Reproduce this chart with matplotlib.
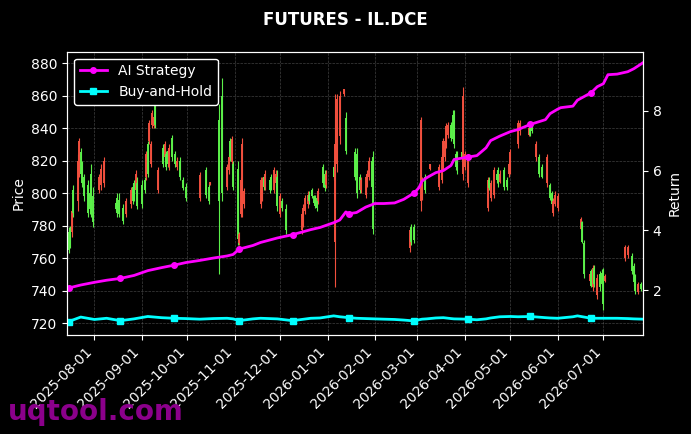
import matplotlib
matplotlib.use("Agg")
import matplotlib.pyplot as plt
import matplotlib.dates as mdates
import pandas as pd

# candles: day offsets from 2025-08-01, OHLC
candle_day = [-17, -16, -15, -14, -11, -10, -9, -8, -7, -4, -3, -2, -1, 3, 4, 6,
              14, 15, 16, 19, 21, 24, 25, 26, 27, 28, 31, 33, 34, 35, 36, 37, 38, 39, 40,
              42, 45, 46, 47, 48, 49, 51, 53, 54, 56, 58, 60, 69, 73, 75, 76,
              82, 84, 87, 88, 89, 90, 91, 94, 95, 96, 97, 98,
              109, 110, 111, 112, 115, 116, 118, 119, 120, 122, 123, 126,
              136, 137, 138, 140, 141, 143, 144, 145, 146, 147, 150, 151, 152,
              157, 158, 159, 161, 164, 165, 171, 172, 174, 175, 178, 179, 180, 182, 183,
              207, 208, 210, 214, 215, 217, 220, 226, 228, 229, 230, 231, 232,
              234, 235, 236, 237, 238, 241, 242, 243, 245,
              258, 259, 260, 262, 264, 265, 266, 269, 271, 272, 273, 278, 279,
              285, 286, 287, 290, 292, 294, 297, 299, 300, 301, 302, 304,
              319, 320, 321, 325, 326, 327, 328, 330, 332, 333, 334, 335,
              348, 350, 353, 354, 355, 357, 359]
candle_open = [765, 768, 789, 788, 820, 832, 812, 806, 798, 788, 790, 790, 782, 810, 815, 820,
               790, 788, 787, 783, 795, 802, 795, 797, 812, 792, 793, 802, 824, 812, 843, 830, 849, 847, 842,
               814, 818, 830, 816, 818, 828, 822, 818, 820, 810, 803, 797, 811, 799, 795, 807,
               795, 800, 816, 822, 822, 833, 804, 772, 775, 808, 830, 801,
               808, 808, 804, 812, 802, 804, 814, 812, 792, 798, 791, 777,
               787, 791, 797, 799, 795, 798, 794, 792, 791, 801, 806, 803, 812,
               810, 830, 858, 860, 864, 826, 810, 800, 802, 808, 810, 812, 820, 804, 778,
               777, 770, 771, 845, 808, 802, 818, 816, 822, 832, 832, 841, 842,
               834, 833, 830, 816, 814, 821, 860, 824, 822,
               808, 803, 806, 814, 808, 806, 812, 804, 804, 818, 825, 843, 843,
               840, 836, 838, 830, 812, 810, 822, 797, 793, 795, 799, 798,
               784, 770, 750, 750, 743, 754, 744, 748, 742, 744, 732, 749,
               767, 767, 752, 745, 740, 744, 741]
candle_high = [779, 780, 791, 805, 824, 834, 828, 820, 812, 808, 804, 818, 804, 812, 818, 822,
               795, 800, 800, 793, 797, 804, 806, 808, 814, 810, 808, 810, 826, 832, 845, 832, 851, 849, 857,
               816, 830, 832, 826, 828, 830, 836, 826, 822, 822, 810, 806, 813, 816, 806, 807,
               855, 871, 818, 824, 834, 835, 820, 820, 776, 810, 834, 803,
               810, 810, 812, 814, 810, 812, 816, 814, 814, 800, 797, 793,
               789, 793, 799, 801, 801, 803, 799, 799, 799, 803, 818, 814, 814,
               818, 861, 861, 863, 864, 850, 828, 828, 812, 810, 812, 814, 822, 822, 826,
               779, 781, 781, 847, 810, 812, 818, 818, 824, 834, 834, 843, 844,
               844, 851, 851, 826, 826, 826, 865, 826, 824,
               810, 810, 808, 816, 814, 816, 814, 816, 810, 820, 827, 845, 845,
               841, 841, 843, 832, 824, 818, 824, 806, 801, 797, 801, 800,
               785, 783, 771, 751, 753, 756, 756, 750, 752, 753, 754, 750,
               768, 768, 763, 757, 750, 745, 745]
candle_low = [763, 766, 773, 785, 789, 810, 810, 804, 795, 785, 787, 785, 779, 800, 802, 804,
              789, 785, 785, 781, 785, 791, 793, 795, 800, 790, 791, 800, 808, 810, 830, 816, 840, 840, 840,
              800, 816, 820, 814, 816, 814, 820, 816, 814, 808, 802, 795, 795, 797, 793, 805,
              750, 795, 802, 812, 820, 817, 802, 768, 768, 785, 785, 791,
              791, 795, 802, 802, 800, 802, 800, 804, 789, 785, 789, 775,
              775, 779, 787, 791, 793, 797, 793, 791, 789, 793, 804, 801, 803,
              808, 742, 813, 830, 860, 824, 808, 797, 800, 800, 797, 804, 808, 802, 775,
              764, 768, 769, 789, 796, 800, 814, 802, 806, 814, 820, 828, 834,
              832, 831, 828, 814, 812, 820, 808, 814, 804,
              789, 802, 795, 797, 806, 804, 806, 802, 802, 810, 812, 828, 836,
              835, 835, 837, 820, 810, 809, 804, 796, 792, 786, 792, 789,
              777, 769, 748, 745, 742, 740, 742, 735, 740, 742, 728, 745,
              758, 760, 750, 743, 738, 738, 740]
candle_close = [776, 778, 776, 802, 795, 814, 825, 818, 810, 805, 800, 812, 798, 802, 805, 806,
                794, 797, 796, 791, 787, 793, 804, 806, 802, 806, 805, 808, 810, 830, 832, 818, 842, 841, 855,
                802, 828, 822, 824, 826, 816, 834, 824, 816, 820, 808, 804, 797, 814, 804, 805,
                845, 860, 804, 814, 832, 819, 818, 815, 769, 787, 790, 793,
                793, 797, 810, 804, 808, 810, 802, 806, 810, 787, 795, 790,
                777, 781, 789, 793, 799, 802, 798, 797, 797, 795, 816, 812, 805,
                816, 770, 818, 835, 861, 846, 825, 824, 810, 802, 799, 806, 810, 820, 822,
                766, 779, 779, 795, 798, 810, 815, 804, 808, 816, 822, 830, 836,
                842, 848, 846, 824, 824, 825, 812, 816, 806,
                791, 808, 797, 799, 812, 814, 807, 814, 808, 812, 814, 830, 838,
                836, 840, 842, 822, 822, 816, 806, 805, 800, 788, 793, 791,
                778, 782, 769, 746, 752, 742, 754, 737, 750, 751, 750, 746,
                760, 762, 761, 755, 748, 739, 744]

# cumulative returns (right axis)
line_day = [-17, -9, 0, 8, 17, 26, 35, 44, 52, 60, 69, 78, 87, 91, 95, 104, 109, 120,
            130, 142, 148, 157, 161, 165, 167, 172, 178, 184, 190, 197, 203, 210, 213,
            215, 218, 224, 229, 234, 236, 245, 251, 257, 260, 266, 273, 278, 286, 296,
            299, 304, 306, 314, 317, 326, 330, 334, 337, 343, 350, 354, 360]
ai_return = [2.08, 2.18, 2.27, 2.34, 2.40, 2.5, 2.66, 2.76, 2.84, 2.93, 3.0, 3.08, 3.15, 3.2,
             3.38, 3.5, 3.6, 3.75, 3.86, 4.03, 4.1, 4.26, 4.35, 4.62, 4.56, 4.6, 4.78, 4.9,
             4.9, 4.92, 5.04, 5.26, 5.43, 5.65, 5.76, 5.93, 6.0, 6.17, 6.37, 6.45, 6.5,
             6.76, 7.0, 7.15, 7.3, 7.37, 7.54, 7.7, 7.9, 8.05, 8.1, 8.15, 8.35, 8.6, 8.8,
             8.9, 9.2, 9.22, 9.3, 9.4, 9.6]
bh_return = [0.96, 1.11, 1.03, 1.07, 0.99, 1.05, 1.13, 1.09, 1.07, 1.06, 1.04, 1.06, 1.07,
             1.05, 0.99, 1.05, 1.07, 1.05, 0.99, 1.07, 1.08, 1.15, 1.12, 1.10, 1.09, 1.07,
             1.06, 1.05, 1.04, 1.03, 1.01, 0.98, 1.02, 1.04, 1.05, 1.08, 1.09, 1.06, 1.05,
             1.04, 1.02, 1.05, 1.08, 1.12, 1.13, 1.12, 1.13, 1.09, 1.08, 1.07, 1.08, 1.12,
             1.15, 1.07, 1.07, 1.07, 1.07, 1.07, 1.06, 1.05, 1.04]
marker_day = [-17, 17, 52, 95, 130, 167, 210, 245, 286, 326]

base = pd.Timestamp('2025-08-01')
c_dates = base + pd.to_timedelta(candle_day, unit='D')
l_dates = base + pd.to_timedelta(line_day, unit='D')
marks = [line_day.index(d) for d in marker_day]

plt.style.use('dark_background')
fig = plt.figure(figsize=(6.91, 4.34), dpi=100)
ax = fig.add_axes([0.097, 0.228, 0.8335, 0.653])

up_col = '#5cf04a'
dn_col = '#f2503e'
cols = [up_col if c >= o else dn_col for o, c in zip(candle_open, candle_close)]
ax.vlines(c_dates, candle_low, candle_high, colors=cols, linewidth=0.8)
ax.vlines(c_dates, [min(o, c) for o, c in zip(candle_open, candle_close)],
          [max(o, c) for o, c in zip(candle_open, candle_close)], colors=cols, linewidth=1.4)

ax.set_ylim(712.6, 887)
ax.set_xlim(pd.Timestamp('2025-07-14'), pd.Timestamp('2026-07-27'))
ax.set_ylabel('Price', color='white')
ax.grid(True, linestyle='--', linewidth=0.5, color='gray', alpha=0.5)
ax.xaxis.set_major_locator(mdates.MonthLocator())
ax.xaxis.set_major_formatter(mdates.DateFormatter('%Y-%m-%d'))
plt.setp(ax.get_xticklabels(), rotation=45, ha='right')

ax2 = ax.twinx()
ax2.plot(l_dates, ai_return, color='#ff00ff', linewidth=2, marker='o', markersize=4,
         markevery=marks, label='AI Strategy')
ax2.plot(l_dates, bh_return, color='#00ffff', linewidth=2, marker='s', markersize=4,
         markevery=marks, label='Buy-and-Hold')
ax2.set_ylim(0.51, 9.97)
ax2.set_ylabel('Return', color='white')
ax2.legend(loc='upper left', facecolor='black', edgecolor='white', framealpha=1)

for a in (ax, ax2):
    for s in a.spines.values():
        s.set_color('white')

fig.suptitle('FUTURES - IL.DCE', color='white', fontsize=12, fontweight='bold', y=0.975)
fig.text(0.012, 0.032, 'uqtool.com', color='#8b008b', fontsize=20, fontweight='bold')

fig.savefig('out.png', dpi=100, facecolor='black')
